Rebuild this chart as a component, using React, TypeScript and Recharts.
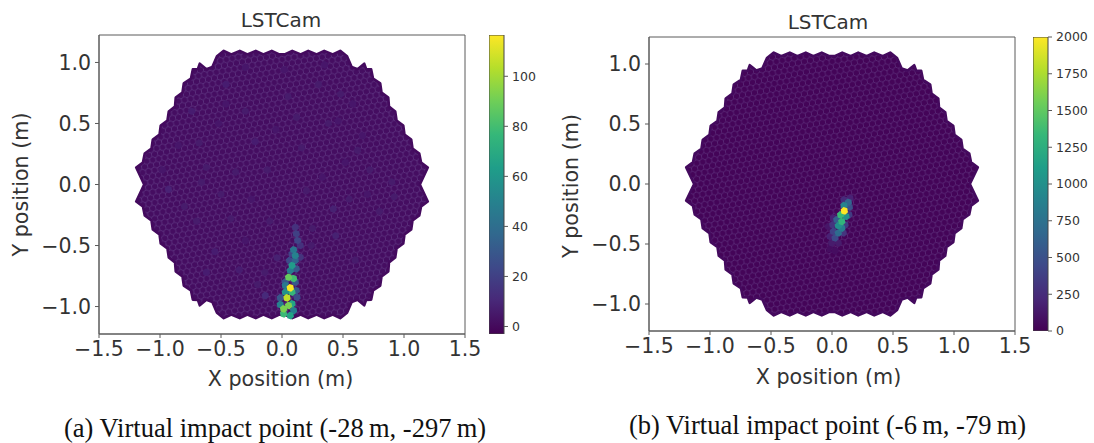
import React from "react";
import {
  Bar,
  BarChart,
  ReferenceArea,
  Scatter,
  ScatterChart,
  XAxis,
  YAxis,
} from "recharts";

const FONT = "'DejaVu Sans', sans-serif";
const INK = "#333333";
const SPINE = "#5a5a5a";

const xTicks = [-1.5, -1, -0.5, 0, 0.5, 1, 1.5];
const yTicks = [-1, -0.5, 0, 0.5, 1];

// scalloped edge of the camera, clockwise from the left notch
const outlineX = [
  -1.13, -1.195, -1.14, -1.125, -1.07, -1.059, -1.004, -0.994, -0.939, -0.928, -0.877, -0.871, -0.816, -0.805, -0.746, -0.731, -0.69, -0.674, -0.62, -0.571, -0.533, -0.477, -0.416, -0.346, -0.284, -0.215, -0.153, -0.084, -0.022,
  0.022, 0.084, 0.153, 0.215, 0.284, 0.346, 0.416, 0.477, 0.533, 0.571, 0.62, 0.674, 0.69, 0.731, 0.746, 0.805, 0.816, 0.871, 0.877, 0.928, 0.939, 0.994, 1.004, 1.059, 1.07, 1.125, 1.14, 1.195, 1.13,
  1.195, 1.14, 1.125, 1.07, 1.059, 1.004, 0.994, 0.939, 0.928, 0.877, 0.871, 0.816, 0.805, 0.746, 0.731, 0.69, 0.674, 0.62, 0.571, 0.533, 0.477, 0.416, 0.346, 0.284, 0.215, 0.153, 0.084, 0.022,
  -0.022, -0.084, -0.153, -0.215, -0.284, -0.346, -0.416, -0.477, -0.533, -0.571, -0.62, -0.674, -0.69, -0.731, -0.746, -0.805, -0.816, -0.871, -0.877, -0.928, -0.939, -0.994, -1.004, -1.059, -1.07, -1.125, -1.14, -1.195,
];
const outlineY = [
  0, 0.139, 0.18, 0.254, 0.294, 0.369, 0.409, 0.484, 0.524, 0.598, 0.638, 0.713, 0.753, 0.828, 0.868, 0.943, 0.945, 0.99, 0.945, 0.962, 1.05, 1.095, 1.066, 1.095, 1.066, 1.095, 1.066, 1.095, 1.066,
  1.066, 1.095, 1.066, 1.095, 1.066, 1.095, 1.066, 1.095, 1.05, 0.962, 0.945, 0.99, 0.945, 0.943, 0.868, 0.828, 0.753, 0.713, 0.638, 0.598, 0.524, 0.484, 0.409, 0.369, 0.294, 0.254, 0.18, 0.139, 0,
  -0.139, -0.18, -0.254, -0.294, -0.369, -0.409, -0.484, -0.524, -0.598, -0.638, -0.713, -0.753, -0.828, -0.868, -0.943, -0.945, -0.99, -0.945, -0.962, -1.05, -1.095, -1.066, -1.095, -1.066, -1.095, -1.066, -1.095, -1.066,
  -1.066, -1.095, -1.066, -1.095, -1.066, -1.095, -1.066, -1.095, -1.05, -0.962, -0.945, -0.99, -0.945, -0.943, -0.868, -0.828, -0.753, -0.713, -0.638, -0.598, -0.524, -0.484, -0.409, -0.369, -0.294, -0.254, -0.18, -0.139,
];

// brightest pixels of the left image, then the faint speckle around them
const leftPixelX = [
  0.068, 0.041, 0.054, 0.095, 0.082, 0.109, 0.095, 0.128, 0.117, 0.109, 0.013, 0.054, 0.068, 0.013, 0.095, -0.014, -0.014, 0.027, 0.027, 0.117, 0.123, 0.082, 0.082, 0.109, 0.027, 0.068, 0.117, 0.062, 0.109, 0.15, 0.082, 0.15, -0.137,
  -0.93, -0.74, -0.68, -0.46, -0.3, -0.62, -0.22, 0.05, 0.3, 0.46, 0.62, 0.55, 0.42, 0.2, -0.1, -0.42, -0.55, -0.12, 0.16, 0.33, 0.48, 0.72, 0.8, -0.35, -0.2, -0.5, -0.7, -0.04, 0.25, 0.44, -0.3, 0.35, 0.9, -0.62, 0.6,
  -0.85, -0.52, -0.38, -0.05, 0.12, 0.58, 0.7, 0.92, -0.98, -0.8, -0.25, 0.38, 0.52, -0.66, -0.46, 0.24, 0.66, -0.14, -0.3, 0.02,
];
const leftPixelY = [
  -0.847, -0.929, -0.76, -0.77, -0.664, -0.582, -0.535, -0.459, -0.404, -0.35, -1.019, -0.992, -1.074, -1.06, -1.033, -0.984, -0.929, -0.883, -0.828, -0.869, -0.924, -0.883, -0.978, -0.8, -0.8, -0.705, -0.691, -0.623, -0.623, -0.596, -0.568, -0.5, -0.91,
  -0.04, 0.6, 0.34, 0.82, 0.6, 0.14, 0.35, 0.72, 0.82, 0.52, 0.28, -0.12, -0.2, -0.05, -0.3, -0.28, -0.55, 0.12, 0.3, 0.06, 0.74, 0.12, -0.22, -0.7, -0.82, -0.08, -0.3, -0.6, -0.36, -0.42, 0.96, 0.98, 0.02, -0.72, -0.62,
  0.32, 0.5, 0.1, 0.45, 0.55, 0.66, -0.08, -0.1, 0.12, -0.18, -0.12, 0.5, 0.18, 0.02, 0.66, -0.5, 0.4, -0.72, -0.46, 0.94,
];
const leftPixelV = [
  116, 105, 88, 80, 62, 50, 44, 22, 20, 14, 92, 92, 66, 78, 48, 50, 30, 58, 45, 30, 25, 76, 66, 30, 30, 48, 30, 25, 35, 15, 22, 14, 12,
  9, 7, 6, 7, 6, 6, 7, 6, 6, 5, 6, 6, 8, 6, 6, 6, 7, 6, 6, 5, 6, 6, 6, 7, 6, 6, 6, 8, 6, 8, 5, 5, 6, 7, 6,
  5, 5, 6, 5, 6, 5, 5, 6, 5, 6, 5, 6, 5, 6, 5, 6, 5, 6, 5, 5,
];

const rightPixelX = [
  0.101, 0.134, 0.098, 0.142, 0.071, 0.115, 0.08, 0.052, 0.08, 0.039, 0.139, 0.052, 0.011, 0.025, 0.093, 0.011, 0.006, -0.016, 0.052, -0.002, -0.016, 0.025, 0.107, 0.098, 0.148, -0.03,
];
const rightPixelY = [
  -0.224, -0.152, -0.18, -0.193, -0.257, -0.271, -0.313, -0.348, -0.368, -0.298, -0.257, -0.408, -0.395, -0.45, -0.408, -0.284, -0.34, -0.437, -0.492, -0.492, -0.542, -0.556, -0.34, -0.132, -0.118, -0.354,
];
const rightPixelV = [
  2000, 650, 900, 500, 1350, 1000, 1300, 1000, 850, 600, 350, 700, 400, 450, 300, 200, 300, 200, 150, 150, 80, 80, 350, 250, 200, 120,
];

const leftBarTicks = [0, 20, 40, 60, 80, 100];
const rightBarTicks = [0, 250, 500, 750, 1000, 1250, 1500, 1750, 2000];

const viridis = ["#440154", "#482878", "#3e4989", "#31688e", "#26828e", "#1f9e89", "#35b779", "#6ece58", "#b5de2b", "#fde725"];

function hexToRgb(hex: string) {
  return [1, 3, 5].map((i) => parseInt(hex.slice(i, i + 2), 16));
}

function pixelColor(value: number, min: number, max: number) {
  const t = Math.min(1, Math.max(0, (value - min) / (max - min))) * (viridis.length - 1);
  const i = Math.min(viridis.length - 2, Math.floor(t));
  const a = hexToRgb(viridis[i]);
  const b = hexToRgb(viridis[i + 1]);
  const c = a.map((v, k) => Math.round(v + (b[k] - v) * (t - i)));
  return `rgb(${c[0]},${c[1]},${c[2]})`;
}

function formatTick(v: number) {
  return (v < 0 ? "\u2212" : "") + Math.abs(v).toFixed(1);
}

function hexPoints(cx: number, cy: number, r: number) {
  const corners = [19, 79, 139, 199, 259, 319];
  return corners
    .map((deg) => {
      const a = (deg * Math.PI) / 180;
      return `${(cx + r * Math.cos(a)).toFixed(2)},${(cy + r * Math.sin(a)).toFixed(2)}`;
    })
    .join(" ");
}

const outlineData = outlineX.map((x, i) => ({ x, y: outlineY[i] }));

function CameraPanel(props: {
  left: number;
  top: number;
  plotWidth: number;
  plotHeight: number;
  xs: number[];
  ys: number[];
  vs: number[];
  vMin: number;
  vMax: number;
  texture: string;
  xLabelDx: number;
  xLabelOffset: number;
  yLabelDy: number;
}) {
  const { left, top, plotWidth, plotHeight, xs, ys, vs, vMin, vMax, texture, xLabelDx, xLabelOffset, yLabelDy } = props;
  const pixels = xs.map((x, i) => ({ x, y: ys[i], v: vs[i] })).sort((a, b) => a.v - b.v);
  const tickStyle = { fontSize: 20.5, fill: INK, fontFamily: FONT };
  const labelStyle = { fontSize: 20.7, fill: INK, fontFamily: FONT };

  return (
    <div style={{ position: "absolute", left: left - 98, top: top - 32 }}>
      <ScatterChart
        width={plotWidth + 98 + 30}
        height={plotHeight + 32 + 62}
        margin={{ top: 32, left: 8, right: 30, bottom: 0 }}
      >
        <XAxis
          type="number"
          dataKey="x"
          domain={[-1.5, 1.5]}
          ticks={xTicks}
          tickFormatter={formatTick}
          tickSize={4}
          tickMargin={3}
          interval={0}
          height={62}
          stroke={SPINE}
          tick={tickStyle}
          allowDataOverflow
          label={{ value: "X position (m)", position: "insideBottom", offset: xLabelOffset, dx: xLabelDx, style: labelStyle }}
        />
        <YAxis
          type="number"
          dataKey="y"
          domain={[-1.225, 1.225]}
          ticks={yTicks}
          tickFormatter={formatTick}
          tickSize={4}
          tickMargin={4}
          interval={0}
          width={90}
          stroke={SPINE}
          tick={tickStyle}
          allowDataOverflow
          label={{ value: "Y position (m)", angle: -90, position: "insideLeft", offset: 0, dx: 12, dy: yLabelDy, style: labelStyle }}
        />
        <ReferenceArea x1={-1.5} x2={1.5} y1={-1.225} y2={1.225} fill="none" stroke={SPINE} strokeWidth={1} />
        <Scatter
          data={outlineData}
          isAnimationActive={false}
          shape={() => <g />}
          line={(lineProps: any) => (
            <path
              d={"M" + lineProps.points.map((p: any) => `${p.x},${p.y}`).join("L") + "Z"}
              fill={`url(#${texture})`}
              stroke="#440a5e"
              strokeWidth={2.6}
              strokeLinejoin="round"
            />
          )}
        />
        <Scatter
          data={pixels}
          isAnimationActive={false}
          shape={(p: any) => (
            <polygon
              points={hexPoints(p.cx, p.cy, 3.9)}
              fill={pixelColor(p.payload.v, vMin, vMax)}
              filter="url(#softPixel)"
            />
          )}
        />
      </ScatterChart>
    </div>
  );
}

function ColorBar(props: {
  left: number;
  top: number;
  height: number;
  min: number;
  max: number;
  ticks: number[];
}) {
  const { left, top, height, min, max, ticks } = props;
  return (
    <div style={{ position: "absolute", left, top: top - 10 }}>
      <BarChart
        width={60}
        height={height + 20}
        data={[{ name: "scale", range: [min, max] }]}
        margin={{ top: 10, right: 0, bottom: 10, left: 0 }}
        barCategoryGap={0}
      >
        <XAxis dataKey="name" hide />
        <YAxis
          orientation="right"
          type="number"
          domain={[min, max]}
          ticks={ticks}
          interval={0}
          tickSize={4}
          tickMargin={4}
          width={45}
          axisLine={false}
          stroke={SPINE}
          tick={{ fontSize: 12.5, fill: INK, fontFamily: FONT }}
          allowDataOverflow
        />
        <Bar dataKey="range" fill="url(#viridisBar)" stroke="#444444" strokeWidth={1} isAnimationActive={false} />
      </BarChart>
    </div>
  );
}

function Title(props: { x: number; y: number; children: React.ReactNode }) {
  return (
    <div
      style={{
        position: "absolute",
        left: props.x,
        top: props.y,
        transform: "translateX(-50%)",
        fontFamily: FONT,
        fontSize: 20,
        color: INK,
        whiteSpace: "nowrap",
      }}
    >
      {props.children}
    </div>
  );
}

function Caption(props: { x: number; y: number; children: React.ReactNode }) {
  return (
    <div
      style={{
        position: "absolute",
        left: props.x,
        top: props.y,
        fontFamily: "'Liberation Serif', serif",
        fontSize: 26.5,
        color: "#111111",
        whiteSpace: "nowrap",
      }}
    >
      {props.children}
    </div>
  );
}

export default function App() {
  return (
    <div style={{ position: "absolute", left: 0, top: 0, width: 1094, height: 443, background: "#fff", overflow: "hidden" }}>
      <svg width={0} height={0} style={{ position: "absolute" }}>
        <defs>
          <filter id="softPixel" x="-30%" y="-30%" width="160%" height="160%">
            <feGaussianBlur stdDeviation={0.6} />
          </filter>
          <linearGradient id="viridisBar" x1="0" y1="1" x2="0" y2="0">
            {viridis.map((c, i) => (
              <stop key={c} offset={i / (viridis.length - 1)} stopColor={c} />
            ))}
          </linearGradient>
          <pattern id="texLeft" width={6.1} height={10.56} patternUnits="userSpaceOnUse" patternTransform="rotate(-11)">
            <rect width={6.1} height={10.56} fill="#450d61" />
            <path
              d="M3.05 0L6.1 1.76L6.1 5.28L3.05 7.04L0 5.28L0 1.76ZM3.05 7.04L3.05 10.56"
              fill="none"
              stroke="#5d3480"
              strokeWidth={0.8}
            />
          </pattern>
          <pattern id="texRight" width={6.1} height={10.56} patternUnits="userSpaceOnUse" patternTransform="rotate(-11)">
            <rect width={6.1} height={10.56} fill="#440458" />
            <path
              d="M3.05 0L6.1 1.76L6.1 5.28L3.05 7.04L0 5.28L0 1.76ZM3.05 7.04L3.05 10.56"
              fill="none"
              stroke="#5a2c78"
              strokeWidth={0.8}
            />
          </pattern>
        </defs>
      </svg>

      <Title x={281} y={8}>LSTCam</Title>
      <CameraPanel
        left={98.5}
        top={34.5}
        plotWidth={366}
        plotHeight={299}
        xs={leftPixelX}
        ys={leftPixelY}
        vs={leftPixelV}
        vMin={-3}
        vMax={116.5}
        texture="texLeft"
        xLabelDx={-1.5}
        xLabelOffset={10}
        yLabelDy={72}
      />
      <ColorBar left={488.7} top={34.5} height={299} min={-3} max={116.5} ticks={leftBarTicks} />
      <Caption x={64} y={413}>(a) Virtual impact point (-28{"\u2009"}m, -297{"\u2009"}m)</Caption>

      <Title x={828} y={10}>LSTCam</Title>
      <CameraPanel
        left={649.3}
        top={37}
        plotWidth={366}
        plotHeight={294}
        xs={rightPixelX}
        ys={rightPixelY}
        vs={rightPixelV}
        vMin={0}
        vMax={2000}
        texture="texRight"
        xLabelDx={-3.5}
        xLabelOffset={9}
        yLabelDy={74}
      />
      <ColorBar left={1033} top={37} height={294} min={0} max={2000} ticks={rightBarTicks} />
      <Caption x={629} y={410}>(b) Virtual impact point (-6{"\u2009"}m, -79{"\u2009"}m)</Caption>
    </div>
  );
}
